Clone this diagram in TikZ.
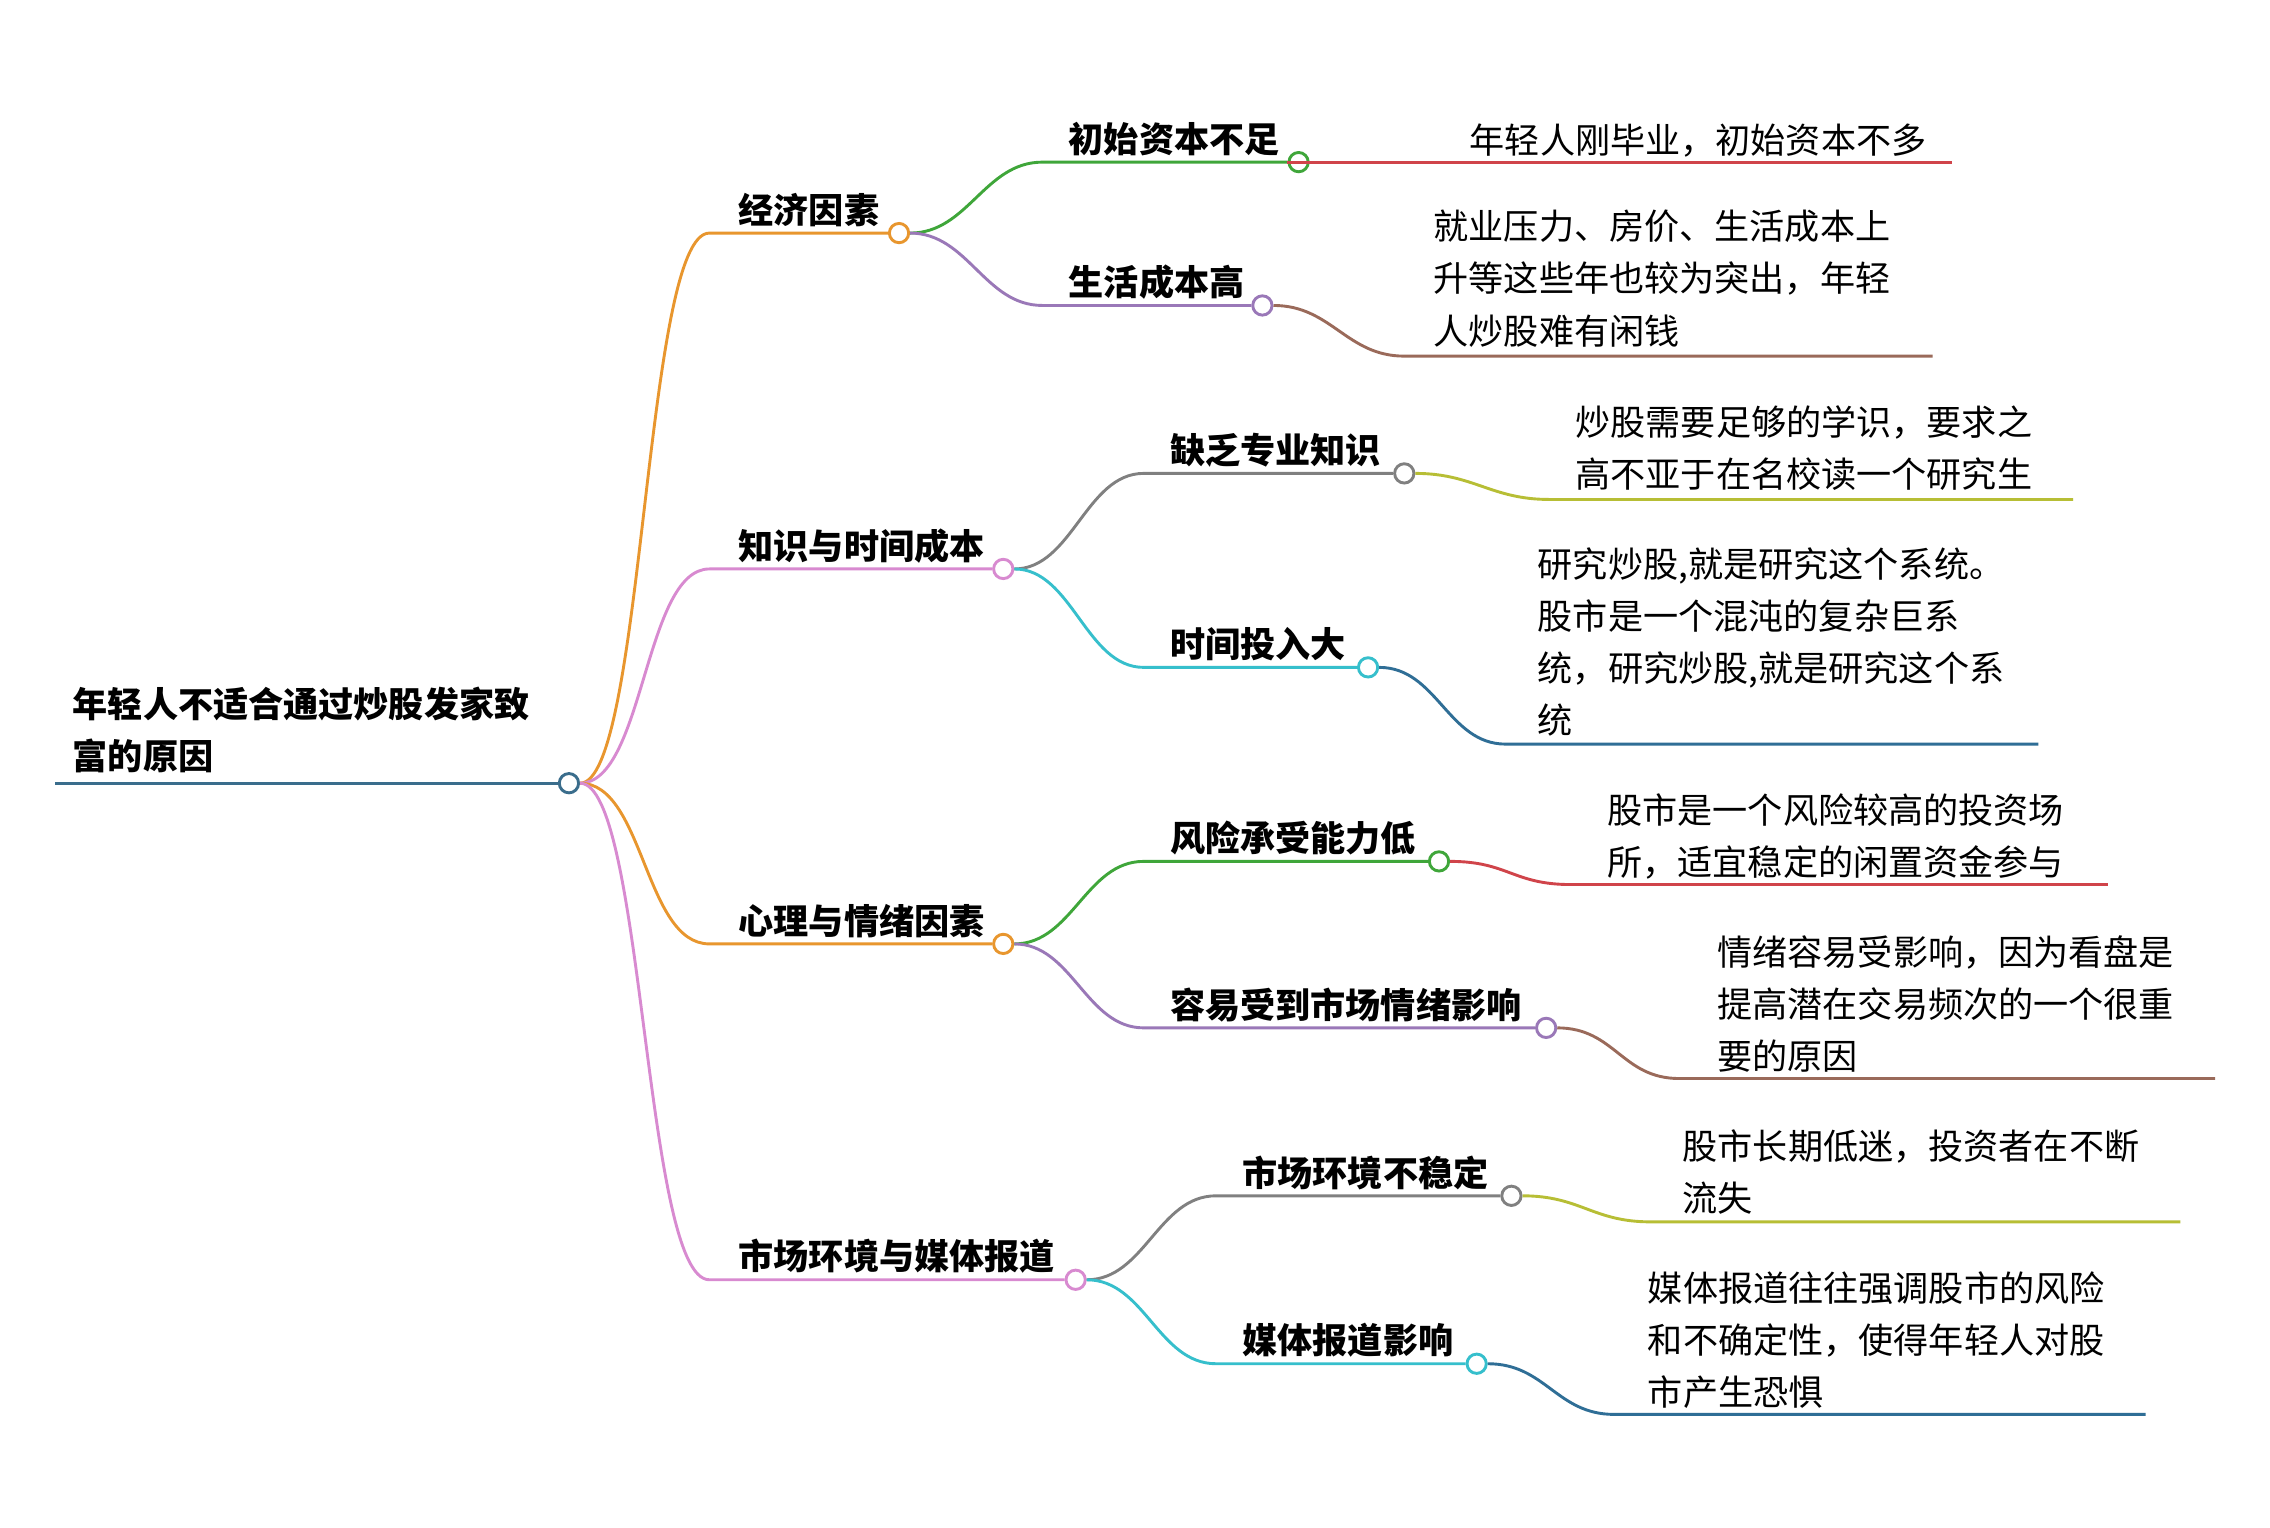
\documentclass[tikz,border=0pt]{standalone}
\usepackage{fontspec}
\setmainfont{Noto Sans CJK SC}
\begin{document}
\begin{tikzpicture}[x=0.75pt,y=-0.75pt]
\definecolor{cblue}{HTML}{3A6D8C}
\definecolor{corange}{HTML}{E8962E}
\definecolor{cpink}{HTML}{D88AD0}
\definecolor{cgreen}{HTML}{3FA63A}
\definecolor{cpurple}{HTML}{9A78B8}
\definecolor{cred}{HTML}{D0444A}
\definecolor{cbrown}{HTML}{9A6A5A}
\definecolor{cgray}{HTML}{808080}
\definecolor{cyg}{HTML}{B7BE35}
\definecolor{ccyan}{HTML}{36BFCC}
\definecolor{cdblue}{HTML}{2F6E96}
\tikzset{
  dot/.style={circle,draw=#1,fill=white,line width=1.5pt,minimum size=10pt,inner sep=0pt},
  ln/.style={draw=#1,line width=1.5pt},
  btext/.style={anchor=west,font=\fontsize{18.2}{27}\selectfont\bfseries,inner sep=0pt},
  ltext/.style={anchor=west,font=\fontsize{18.2}{27}\selectfont,inner sep=0pt,align=left},
}
\useasboundingbox[fill=white] (0,0) rectangle (1568,1055);
% root
\node[btext,align=left,anchor=north west] (rt) at (50,474) {年轻人不适合通过炒股发家致\\富的原因};
\coordinate (r0) at (38,541);
\node[dot=cblue] (R) at (393,541) {};
\draw[ln=cblue] (r0) -- (R.west);
% level 1
\foreach \n/\y/\x/\c/\t in {A/161/621/corange/经济因素, B/393/693/cpink/知识与时间成本, C/652/693/corange/心理与情绪因素, D/884/743/cpink/市场环境与媒体报道}{
  \node[dot=\c] (\n) at (\x,\y) {};
  \coordinate (\n s) at (490,\y);
  \draw[ln=\c] (R.east) .. controls (445,541) and (445,\y) .. (\n s) -- (\n.west);
  \node[btext] (\n t) at (510,\y-16) {\t};
}
% level 2
\foreach \p/\n/\y/\x/\sx/\c/\t in {A/A1/112/897/720/cgreen/初始资本不足, A/A2/211/872/720/cpurple/生活成本高, B/B1/327/970/790/cgray/缺乏专业知识, B/B2/461/945/790/ccyan/时间投入大, C/C1/595/994/790/cgreen/风险承受能力低, C/C2/710/1068/790/cpurple/容易受到市场情绪影响, D/D1/826/1044/840/cgray/市场环境不稳定, D/D2/942/1020/840/ccyan/媒体报道影响}{
  \node[dot=\c] (\n) at (\x,\y) {};
  \coordinate (\n s) at (\sx,\y);
  \draw[ln=\c] (\p.east) .. controls ([xshift=30pt]\p.east) and ([xshift=-30pt]\n s) .. (\n s) -- (\n.west);
  \node[btext] (\n t) at (\sx+18,\y-16) {\t};
}
% leaves
\foreach \p/\n/\y/\sx/\ex/\c in {A1/L1/112/900/1348/cred, A2/L2/246/970/1335/cbrown, B1/L3/345/1070/1432/cyg, B2/L4/514/1040/1408/cdblue, C1/L5/611/1085/1456/cred, C2/L6/745/1160/1530/cbrown, D1/L7/844/1140/1506/cyg, D2/L8/977/1115/1482/cdblue}{
  \coordinate (\n s) at (\sx,\y);
  \coordinate (\n e) at (\ex,\y);
  \draw[ln=\c] (\p.east) .. controls ([xshift=30pt]\p.east) and ([xshift=-30pt]\n s) .. (\n s) -- (\n e);
}
\node[ltext,anchor=west] (T1) at (1015,97) {年轻人刚毕业，初始资本不多};
\node[ltext,anchor=north west] (T2) at (990,145) {就业压力、房价、生活成本上\\升等这些年也较为突出，年轻\\人炒股难有闲钱};
\node[ltext,anchor=north west] (T3) at (1088,280) {炒股需要足够的学识，要求之\\高不亚于在名校读一个研究生};
\node[ltext,anchor=north west] (T4) at (1062,378) {研究炒股,就是研究这个系统。\\股市是一个混沌的复杂巨系\\统，研究炒股,就是研究这个系\\统};
\node[ltext,anchor=north west] (T5) at (1110,548) {股市是一个风险较高的投资场\\所，适宜稳定的闲置资金参与};
\node[ltext,anchor=north west] (T6) at (1186,646) {情绪容易受影响，因为看盘是\\提高潜在交易频次的一个很重\\要的原因};
\node[ltext,anchor=north west] (T7) at (1162,780) {股市长期低迷，投资者在不断\\流失};
\node[ltext,anchor=north west] (T8) at (1138,878) {媒体报道往往强调股市的风险\\和不确定性，使得年轻人对股\\市产生恐惧};
\end{tikzpicture}
\end{document}
